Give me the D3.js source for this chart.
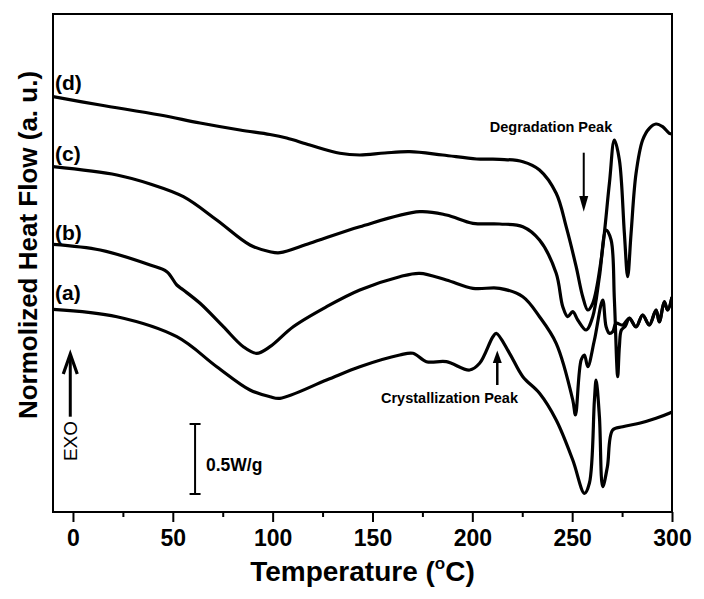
<!DOCTYPE html>
<html><head><meta charset="utf-8">
<script src="https://cdn.jsdelivr.net/npm/d3@7"></script>
<style>
html,body{margin:0;padding:0;background:#fff;}
text{font-family:Arial,"Liberation Sans",Helvetica,sans-serif;}
</style></head>
<body><svg id="chart" width="704" height="599"></svg>
<script>
// Temperature (°C) / normalized heat flow (a.u., offset curves)
const tempA = [-10,22,52,72,88.65,98.65,103.65,127,143.65,163.65,170.3,177,187,198.65,203.65,210.3,212,218.65,225.3,233.65,242,250.3,256.15,258.65,261.15,262,263.65,265.3,267.65,270.3,275.3,283.65,292,298.65,300];
const flowA = [40.54,39.06,35.06,29.06,24.4,23.06,22.74,26.4,29.06,31.4,31.74,30.06,30.06,28.4,29.74,35.06,35.74,31.74,27.06,23.74,18.4,10.4,3.74,5.8,22.4,26.4,19.06,5.06,9.06,16.4,17.06,17.74,18.74,19.74,20];

const tempB = [-10,13.65,38.65,47,52,55.3,63.65,75.3,85.3,92,98.65,110.3,127,143.65,163.65,173.65,187,200.3,213.65,225.3,233.65,242,250.3,251.65,254.5,256.15,257.8,261.15,265.3,267,268.65,270.3,272,275.3,278.65,282,285.3,288.65,292,293.65,296.15,297.8,300];
const flowB = [53.54,52.4,49.4,48.06,45.4,44.4,41.74,37.06,33.06,31.74,33.06,37.06,41.06,44.4,47.06,47.74,46.4,44.74,44.74,43.06,39.06,33.74,22.4,19.4,30.4,31.4,29.06,34.4,42.4,37.06,35.74,36.06,37.74,37.4,38.74,37.06,39.4,37.4,40.4,38.06,42.06,40.4,43];

const tempC = [-10,22,38.65,55.3,72,88.65,98.65,103.65,118.65,143.65,173.65,187,200.3,213.65,225.3,233.65,242,245.3,247.8,250.3,252.8,257,260.3,263.65,267,269.5,271.15,272.8,273.65,274.65,276.65,278.65,282,285.3,288.65,292,293.65,296.15,297.8,300];
const flowC = [69.06,67.4,65.6,63.06,58.4,53.4,52.06,51.86,53.74,57.06,60.06,59.4,57.74,57.6,57.06,54.4,47.74,41.06,39.06,40.06,38.4,36.4,39.06,47.06,56.4,54.4,42.4,27.06,33.06,36.4,37.2,38.8,37,39.4,37.4,40.4,38,42,40.4,43];

const tempD = [-10,13.65,43.65,63.65,83.65,98.65,107,118.65,133.65,143.65,156.15,168.65,185.15,202.15,213.65,225.3,233.65,242,247,252,255.3,257.8,260.3,264.5,268.65,271.15,273.65,276.15,277.8,279.5,282,285.3,288.65,292,295.3,298.65,300];
const flowD = [83.06,81.4,79.4,77.8,76.4,75.5,74.8,73.4,71.74,71.4,71.8,72.06,71.4,70.6,70.54,70.06,68.4,63.74,57.06,49.06,43.06,40.4,41.74,50.4,65.74,74.4,70.4,55.74,47.06,55.74,67.74,74.4,76.74,77.6,77.06,75.74,75.6];

const seriesLabels = ["(a)","(b)","(c)","(d)"];
const xTicks = [0,50,100,150,200,250,300];
const xMinorTicks = [25,75,125,175,225,275];

const svg = d3.select("#chart");
const L=53, R=672, T=14, B=512;
const x = d3.scaleLinear().domain([-10,300]).range([L,R]);
const y = d3.scaleLinear().domain([0,99.6]).range([B,T]);

// frame
svg.append("rect").attr("x",L).attr("y",T).attr("width",R-L).attr("height",B-T)
  .attr("fill","none").attr("stroke","#000").attr("stroke-width",2);

// x axis
const xAxis = d3.axisBottom(x).tickValues(xTicks).tickSize(10).tickPadding(8).tickFormat(d3.format("d"));
const gx = svg.append("g").attr("transform",`translate(0,${B})`).call(xAxis);
gx.select(".domain").remove();
gx.selectAll(".tick line").attr("stroke","#000").attr("stroke-width",2);
gx.selectAll(".tick text").attr("font-size",23).attr("font-weight","bold").attr("fill","#000")
  .attr("font-family","Arial, 'Liberation Sans', sans-serif");
const gxm = svg.append("g").attr("transform",`translate(0,${B})`)
  .call(d3.axisBottom(x).tickValues(xMinorTicks).tickSize(5).tickFormat(""));
gxm.select(".domain").remove();
gxm.selectAll(".tick line").attr("stroke","#000").attr("stroke-width",2);

// axis titles
const xt = svg.append("text").attr("x",(L+R)/2).attr("y",581).attr("text-anchor","middle")
  .attr("font-size",28).attr("font-weight","bold");
xt.append("tspan").text("Temperature (");
xt.append("tspan").attr("font-size",17).attr("dy",-12).text("o");
xt.append("tspan").attr("dy",12).text("C)");

svg.append("text").attr("transform","translate(37,245) rotate(-90)").attr("text-anchor","middle")
  .attr("font-size",26).attr("font-weight","bold").text("Normolized Heat Flow (a. u.)");

// curves
const line = d3.line().x(d=>x(d[0])).y(d=>y(d[1])).curve(d3.curveCatmullRom.alpha(0.5));
const data = [[tempA,flowA],[tempB,flowB],[tempC,flowC],[tempD,flowD]];
const clip = svg.append("clipPath").attr("id","clip").append("rect")
  .attr("x",L).attr("y",T).attr("width",R-L).attr("height",B-T);
data.forEach(([t,f])=>{
  svg.append("path").datum(t.map((v,i)=>[v,f[i]])).attr("d",line)
    .attr("fill","none").attr("stroke","#000").attr("stroke-width",3.2)
    .attr("stroke-linejoin","round").attr("clip-path","url(#clip)");
});

// series labels
const labelY = [300,239.5,161,90];
seriesLabels.forEach((s,i)=>{
  svg.append("text").attr("x",55).attr("y",labelY[i]).attr("font-size",21)
    .attr("font-weight","bold").text(s);
});

// Degradation peak annotation
svg.append("text").attr("x",551).attr("y",132).attr("text-anchor","middle")
  .attr("font-size",14.5).attr("font-weight","bold").text("Degradation Peak");
const dgx = x(255.8);
svg.append("line").attr("x1",dgx).attr("x2",dgx).attr("y1",y(71.86)).attr("y2",y(63))
  .attr("stroke","#000").attr("stroke-width",2);
svg.append("path").attr("d",`M${dgx-4.5},${y(63.2)}L${dgx+4.5},${y(63.2)}L${dgx},${y(60.06)}Z`).attr("fill","#000");

// Crystallization peak annotation
svg.append("text").attr("x",449.5).attr("y",403).attr("text-anchor","middle")
  .attr("font-size",14.5).attr("font-weight","bold").text("Crystallization Peak");
const crx = x(212.5);
svg.append("line").attr("x1",crx).attr("x2",crx).attr("y1",y(25.4)).attr("y2",y(30))
  .attr("stroke","#000").attr("stroke-width",2.5);
svg.append("path").attr("d",`M${crx-4.5},${y(29.8)}L${crx+4.5},${y(29.8)}L${crx},${y(32.3)}Z`).attr("fill","#000");

// EXO arrow
const ex = x(-1.35);
svg.append("line").attr("x1",ex).attr("x2",ex).attr("y1",y(19.06)).attr("y2",y(31.2))
  .attr("stroke","#000").attr("stroke-width",3);
svg.append("path").attr("d",`M${ex-7},${y(27.6)}L${ex},${y(31.6)}L${ex+7},${y(27.6)}`)
  .attr("fill","none").attr("stroke","#000").attr("stroke-width",3.2);
svg.append("text").attr("transform",`translate(${ex+7},441) rotate(-90)`).attr("text-anchor","middle")
  .attr("font-size",19).text("EXO");

// Scale bar 0.5 W/g
const sx = x(61.15);
svg.append("line").attr("x1",sx).attr("x2",sx).attr("y1",y(3.6)).attr("y2",y(17.6)).attr("stroke","#000").attr("stroke-width",2);
[3.6,17.6].forEach(v=>svg.append("line").attr("x1",sx-5.5).attr("x2",sx+5.5).attr("y1",y(v)).attr("y2",y(v)).attr("stroke","#000").attr("stroke-width",2));
svg.append("text").attr("x",206).attr("y",470.5).attr("font-size",17.5).attr("font-weight","bold").text("0.5W/g");
</script></body></html>
